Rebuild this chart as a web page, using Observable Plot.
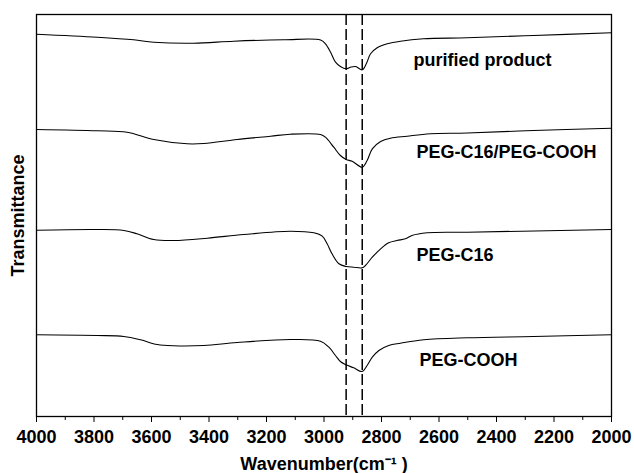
<!DOCTYPE html>
<html>
<head>
<meta charset="utf-8">
<script src="https://cdn.jsdelivr.net/npm/d3@7"></script>
<script src="https://cdn.jsdelivr.net/npm/@observablehq/plot@0.6"></script>
<style>
  html, body { margin: 0; padding: 0; background: #fff; }
</style>
</head>
<body>
<div id="chart"></div>
<script>
// Series names (as labelled in the chart)
const seriesNames = ["purified product", "PEG-C16/PEG-COOH", "PEG-C16", "PEG-COOH"];

// Wavenumbers (cm-1) and transmittance (arbitrary units, stacked traces)
const purifiedWn = [4000, 3789, 3662, 3592, 3453, 3314, 3140, 3012, 2995, 2977, 2960, 2943, 2923, 2908, 2890, 2867, 2852, 2838, 2815, 2780, 2734, 2654, 2502, 2271, 2000];
const purifiedT  = [382.3, 379.3, 376.7, 374.3, 373.3, 375.3, 376.7, 376.5, 372.7, 364.3, 354.3, 350, 347.7, 349.3, 350, 346.7, 353.3, 362.7, 368.7, 372.7, 375.3, 377.7, 378.7, 381, 383.7];

const mixWn = [4000, 3789, 3685, 3592, 3476, 3418, 3302, 3186, 3117, 3012, 2995, 2966, 2943, 2923, 2902, 2867, 2850, 2832, 2803, 2769, 2711, 2630, 2502, 2271, 2000];
const mixT  = [287, 285.7, 284.3, 277, 272.7, 273, 277, 280.3, 282.3, 282, 279.3, 269.3, 261, 257, 255.3, 249.3, 256, 267.7, 275, 278.3, 280.3, 282.7, 283.5, 286, 288.3];

const c16Wn = [4000, 3789, 3696, 3650, 3592, 3522, 3406, 3279, 3117, 3035, 3006, 2989, 2972, 2948, 2923, 2897, 2867, 2856, 2832, 2803, 2775, 2746, 2717, 2694, 2641, 2502, 2000];
const c16T  = [186.3, 187, 186, 182.7, 177, 176, 178.3, 182, 185.3, 183.7, 180.3, 172.7, 162.7, 152.7, 150, 149.3, 148.7, 151, 159.3, 167.7, 173.7, 176, 177.7, 181, 183.7, 184.3, 187];

const coohWn = [4000, 3789, 3696, 3638, 3580, 3522, 3418, 3302, 3117, 3012, 2983, 2960, 2943, 2923, 2897, 2867, 2850, 2832, 2809, 2775, 2734, 2653, 2502, 2271, 2000];
const coohT  = [81.7, 81, 80, 76.7, 72, 70.7, 71, 74, 77, 75.3, 69.3, 61, 55, 51.7, 48.7, 45, 51, 59.3, 66, 71, 73.3, 76.7, 78.7, 80, 81.7];

// Reference band positions (dashed lines), cm-1
const bandWn = [2923, 2867];

// Series label anchors (wavenumber, transmittance a.u.)
const labelWn = [2689, 2678, 2678, 2668];
const labelT  = [356, 264, 161, 56];

// Axis ticks
const majorTicks = [4000, 3800, 3600, 3400, 3200, 3000, 2800, 2600, 2400, 2200, 2000];
const minorTicks = [3900, 3700, 3500, 3300, 3100, 2900, 2700, 2500, 2300, 2100];

const wnArrays = [purifiedWn, mixWn, c16Wn, coohWn];
const tArrays = [purifiedT, mixT, c16T, coohT];
const rows = seriesNames.flatMap((name, i) =>
  wnArrays[i].map((w, j) => ({series: name, wn: w, t: tArrays[i][j]})));
const labels = seriesNames.map((name, i) => ({name, wn: labelWn[i], t: labelT[i]}));

const chart = Plot.plot({
  width: 634,
  height: 473,
  marginLeft: 36,
  marginRight: 23,
  marginTop: 14,
  marginBottom: 57,
  style: {font: "bold 18px 'Liberation Sans', Arial, sans-serif", background: "#fff", color: "#000"},
  x: {domain: [4000, 2000]},
  y: {domain: [0, 402]},
  marks: [
    Plot.frame({stroke: "#000", strokeWidth: 1.3}),
    Plot.ruleX(bandWn, {stroke: "#000", strokeWidth: 1.5, strokeDasharray: "11,4"}),
    Plot.line(rows, {x: "wn", y: "t", z: "series", stroke: "#000", strokeWidth: 1.1, curve: "catmull-rom"}),
    Plot.text(labels, {x: "wn", y: "t", text: "name", textAnchor: "start", lineAnchor: "middle", fontSize: 18, fontWeight: "bold", fill: "#000"}),
    Plot.axisX({ticks: majorTicks, tickSize: 6, tickPadding: 8, tickFormat: d => String(d), fontSize: 18, fontWeight: "bold", stroke: "#000",
      label: "Wavenumber(cm⁻¹ )", labelAnchor: "center", labelOffset: 53, labelArrow: "none"}),
    Plot.axisX({ticks: minorTicks, tickSize: 4, text: null, label: null}),
    Plot.axisY({ticks: [], label: "Transmittance", labelAnchor: "center", labelOffset: 25, labelArrow: "none", fontSize: 18, fontWeight: "bold"})
  ]
});
document.getElementById("chart").appendChild(chart);
</script>
</body>
</html>
